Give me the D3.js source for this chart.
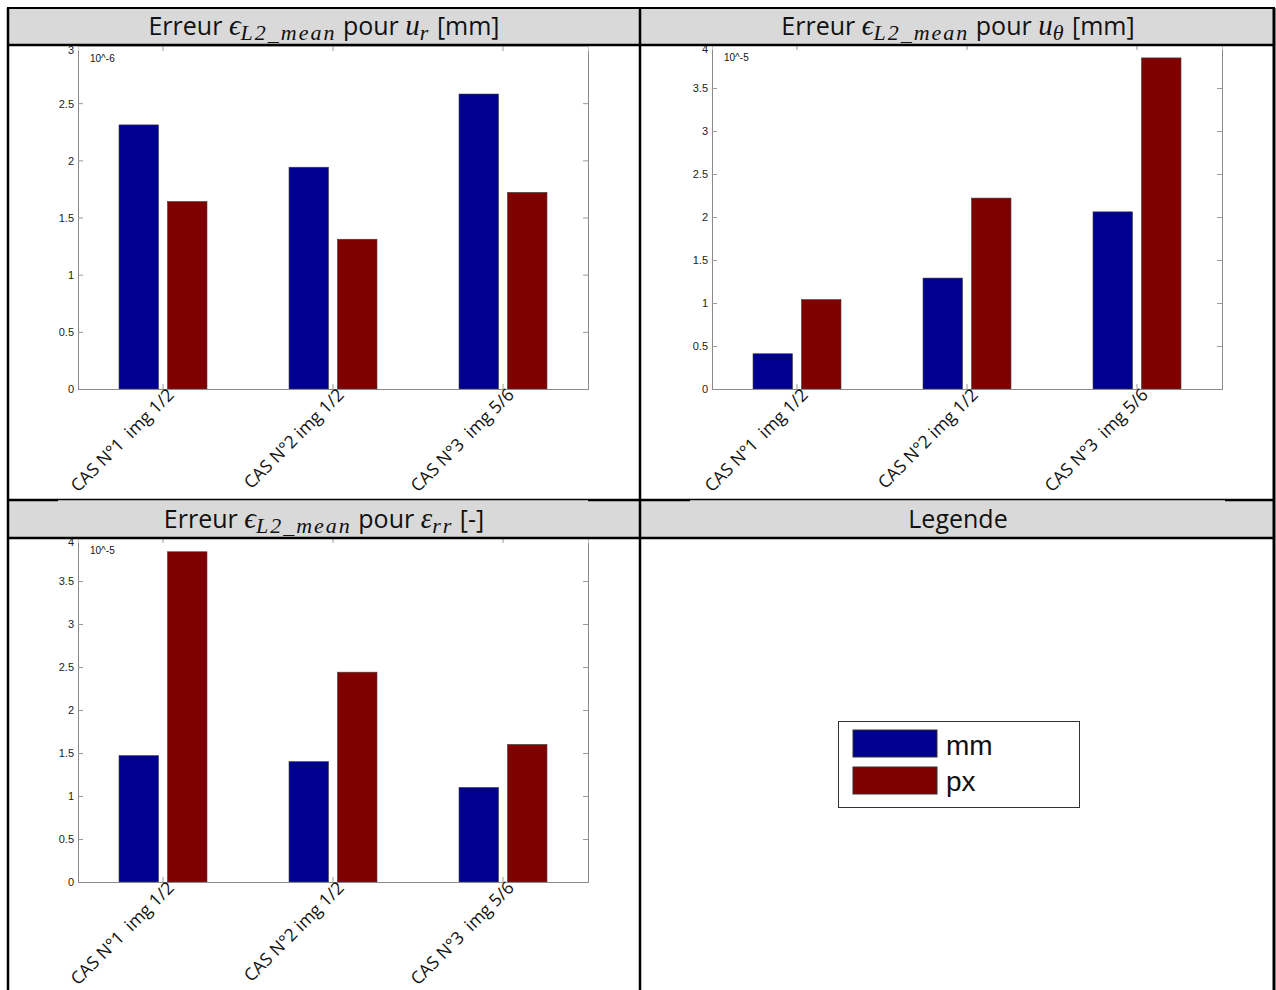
<!DOCTYPE html>
<html><head><meta charset="utf-8">
<script src="https://cdn.jsdelivr.net/npm/d3@7"></script>
<style>
html,body{margin:0;padding:0;background:#fff;}
svg{display:block;}
</style></head>
<body>
<svg id="chart" width="1276" height="990"></svg>
<script>
// ---------- data ----------
const categories = ["CAS N°1  img 1/2", "CAS N°2 img 1/2", "CAS N°3  img 5/6"];
const seriesNames = ["mm", "px"];
const seriesColors = ["#00008f", "#800000"];

const urMm = [2.31, 1.94, 2.58];
const urPx = [1.64, 1.31, 1.72];
const uthetaMm = [0.41, 1.29, 2.06];
const uthetaPx = [1.04, 2.22, 3.85];
const errMm = [1.47, 1.40, 1.10];
const errPx = [3.84, 2.44, 1.60];

const urTicks = [0, 0.5, 1, 1.5, 2, 2.5, 3];
const uthetaTicks = [0, 0.5, 1, 1.5, 2, 2.5, 3, 3.5, 4];
const errTicks = [0, 0.5, 1, 1.5, 2, 2.5, 3, 3.5, 4];
const exponentLabels = ["10^-6", "10^-5", "10^-5"];

// ---------- layout ----------
const svg = d3.select("#chart");
const L = 8, M = 640, R = 1274, T = 8, H1B = 45, R2T = 500, H2B = 538, B = 990;

svg.append("rect").attr("x", L).attr("y", T).attr("width", R - L).attr("height", H1B - T).attr("fill", "#d9d9d9");
svg.append("rect").attr("x", L).attr("y", R2T).attr("width", R - L).attr("height", H2B - R2T).attr("fill", "#d9d9d9");

function drawPanel(cfg) {
  const g = svg.append("g");
  const y = d3.scaleLinear().domain([0, cfg.ymax]).range([cfg.y0, cfg.yTop]);
  const x = d3.scaleBand().domain(categories).range([cfg.x0, cfg.x1]).padding(0);
  const sub = d3.scaleBand().domain(seriesNames).range([-44, 44]).paddingInner(0.185).paddingOuter(0);

  g.append("rect").attr("x", cfg.x0 - 20).attr("y", cfg.yTop).attr("width", cfg.x1 - cfg.x0 + 20)
    .attr("height", cfg.y0 - cfg.yTop).attr("fill", "#fff");

  const data = categories.map((c, i) => ({ c, vals: [cfg.mm[i], cfg.px[i]] }));
  const grp = g.append("g").selectAll("g").data(data).join("g")
    .attr("transform", d => `translate(${x(d.c) + x.bandwidth() / 2},0)`);
  grp.selectAll("rect").data(d => d.vals.map((v, k) => ({ v, k }))).join("rect")
    .attr("x", d => sub(seriesNames[d.k]))
    .attr("width", sub.bandwidth())
    .attr("y", d => y(d.v))
    .attr("height", d => y(0) - y(d.v))
    .attr("fill", d => seriesColors[d.k])
    .attr("stroke", "#444").attr("stroke-width", 0.6);

  const left = g.append("g").attr("transform", `translate(${cfg.x0},0)`)
    .call(d3.axisLeft(y).tickValues(cfg.ticks).tickSize(-5).tickPadding(4).tickFormat(d3.format("")));
  const right = g.append("g").attr("transform", `translate(${cfg.x1},0)`)
    .call(d3.axisRight(y).tickValues(cfg.ticks).tickSize(-5).tickFormat(""));
  const top = g.append("g").attr("transform", `translate(0,${cfg.yTop})`)
    .call(d3.axisTop(x).tickSize(-5).tickFormat(""));
  const bottom = g.append("g").attr("transform", `translate(0,${cfg.y0})`)
    .call(d3.axisBottom(x).tickSize(-5));

  [left, right, top, bottom].forEach(a => {
    a.selectAll("path.domain").attr("stroke", "#8a8a8a");
    a.selectAll(".tick line").attr("stroke", "#9a9a9a");
  });
  top.select("path.domain").attr("stroke", "#c8c8c8");

  left.selectAll(".tick text").attr("font-family", "Liberation Sans, Arial, sans-serif")
    .attr("font-size", 11).attr("fill", "#222")
    .attr("dy", d => d === cfg.ymax ? "0.72em" : "0.35em");

  bottom.selectAll(".tick text")
    .attr("x", 0).attr("y", 0).attr("dy", 0)
    .attr("text-anchor", "end")
    .attr("transform", "translate(12,7) rotate(-45)")
    .attr("font-family", "Open Sans, sans-serif")
    .attr("font-size", 17.5).attr("fill", "#111")
    .style("white-space", "pre");

  g.append("text").attr("x", cfg.x0 + 12).attr("y", cfg.yTop + 16).text(cfg.exp)
    .attr("font-family", "Liberation Sans, Arial, sans-serif").attr("font-size", 10).attr("fill", "#111");
}

drawPanel({ x0: 78, x1: 588, yTop: 46, y0: 389, ymax: 3, ticks: urTicks, mm: urMm, px: urPx, exp: exponentLabels[0] });
drawPanel({ x0: 712, x1: 1222, yTop: 45, y0: 389, ymax: 4, ticks: uthetaTicks, mm: uthetaMm, px: uthetaPx, exp: exponentLabels[1] });
drawPanel({ x0: 78, x1: 588, yTop: 538, y0: 882, ymax: 4, ticks: errTicks, mm: errMm, px: errPx, exp: exponentLabels[2] });

// ---------- headers ----------
function header(cx, by, parts) {
  const t = svg.append("text").attr("x", cx).attr("y", by).attr("text-anchor", "middle").attr("fill", "#111");
  parts.forEach(p => {
    const s = t.append("tspan").text(p.t).style("white-space", "pre");
    if (p.math) {
      s.attr("font-family", "Liberation Serif, DejaVu Serif, serif").attr("font-style", "italic")
        .attr("font-size", p.sub ? 22 : 29);
      if (p.sub) s.attr("letter-spacing", 2);
    } else {
      s.attr("font-family", "Open Sans, sans-serif").attr("font-size", 25);
    }
    if (p.sub) s.attr("dy", 4.5);
    if (p.up) s.attr("dy", -4.5);
  });
  return t;
}
header(324, 35, [
  { t: "Erreur " }, { t: "ϵ", math: true }, { t: "L2_mean", math: true, sub: true },
  { t: " pour ", up: true }, { t: "u", math: true }, { t: "r", math: true, sub: true }, { t: " [mm]", up: true }
]);
header(958, 35, [
  { t: "Erreur " }, { t: "ϵ", math: true }, { t: "L2_mean", math: true, sub: true },
  { t: " pour ", up: true }, { t: "u", math: true }, { t: "θ", math: true, sub: true }, { t: " [mm]", up: true }
]);
header(324, 528, [
  { t: "Erreur " }, { t: "ϵ", math: true }, { t: "L2_mean", math: true, sub: true },
  { t: " pour ", up: true }, { t: "ε", math: true }, { t: "rr", math: true, sub: true }, { t: " [-]", up: true }
]);
header(958, 528, [{ t: "Legende" }]);

// ---------- legend ----------
const lg = svg.append("g");
lg.append("rect").attr("x", 838.5).attr("y", 721.5).attr("width", 241).attr("height", 86)
  .attr("fill", "#fff").attr("stroke", "#333").attr("stroke-width", 1);
seriesNames.forEach((s, i) => {
  lg.append("rect").attr("x", 853).attr("y", 730 + i * 37).attr("width", 84).attr("height", 27)
    .attr("fill", seriesColors[i]).attr("stroke", "#333").attr("stroke-width", 1);
  lg.append("text").attr("x", 946).attr("y", 755 + i * 36).text(s)
    .attr("font-family", "Liberation Sans, Arial, sans-serif").attr("font-size", 28).attr("fill", "#111");
});

// ---------- table lines ----------
const lines = svg.append("g").attr("stroke", "#000");
lines.append("line").attr("x1", L - 1).attr("x2", R + 1).attr("y1", T).attr("y2", T).attr("stroke-width", 2);
lines.append("line").attr("x1", L - 1).attr("x2", R + 1).attr("y1", H1B).attr("y2", H1B).attr("stroke-width", 2.5);
[[L - 1, 58, 2.5, 500], [58, 588, 1.5, 499.5], [588, 690, 2.5, 500], [690, 1225, 1.5, 499.5], [1225, R + 1, 2.5, 500]]
  .forEach(([a, b, w, yy]) => lines.append("line").attr("x1", a).attr("x2", b).attr("y1", yy).attr("y2", yy).attr("stroke-width", w));
lines.append("line").attr("x1", L - 1).attr("x2", R + 1).attr("y1", H2B).attr("y2", H2B).attr("stroke-width", 2.5);
lines.append("line").attr("x1", L).attr("x2", L).attr("y1", T).attr("y2", B).attr("stroke-width", 2.5);
lines.append("line").attr("x1", M).attr("x2", M).attr("y1", T).attr("y2", B).attr("stroke-width", 2.5);
lines.append("line").attr("x1", R).attr("x2", R).attr("y1", T).attr("y2", B).attr("stroke-width", 3);
</script>
</body></html>
